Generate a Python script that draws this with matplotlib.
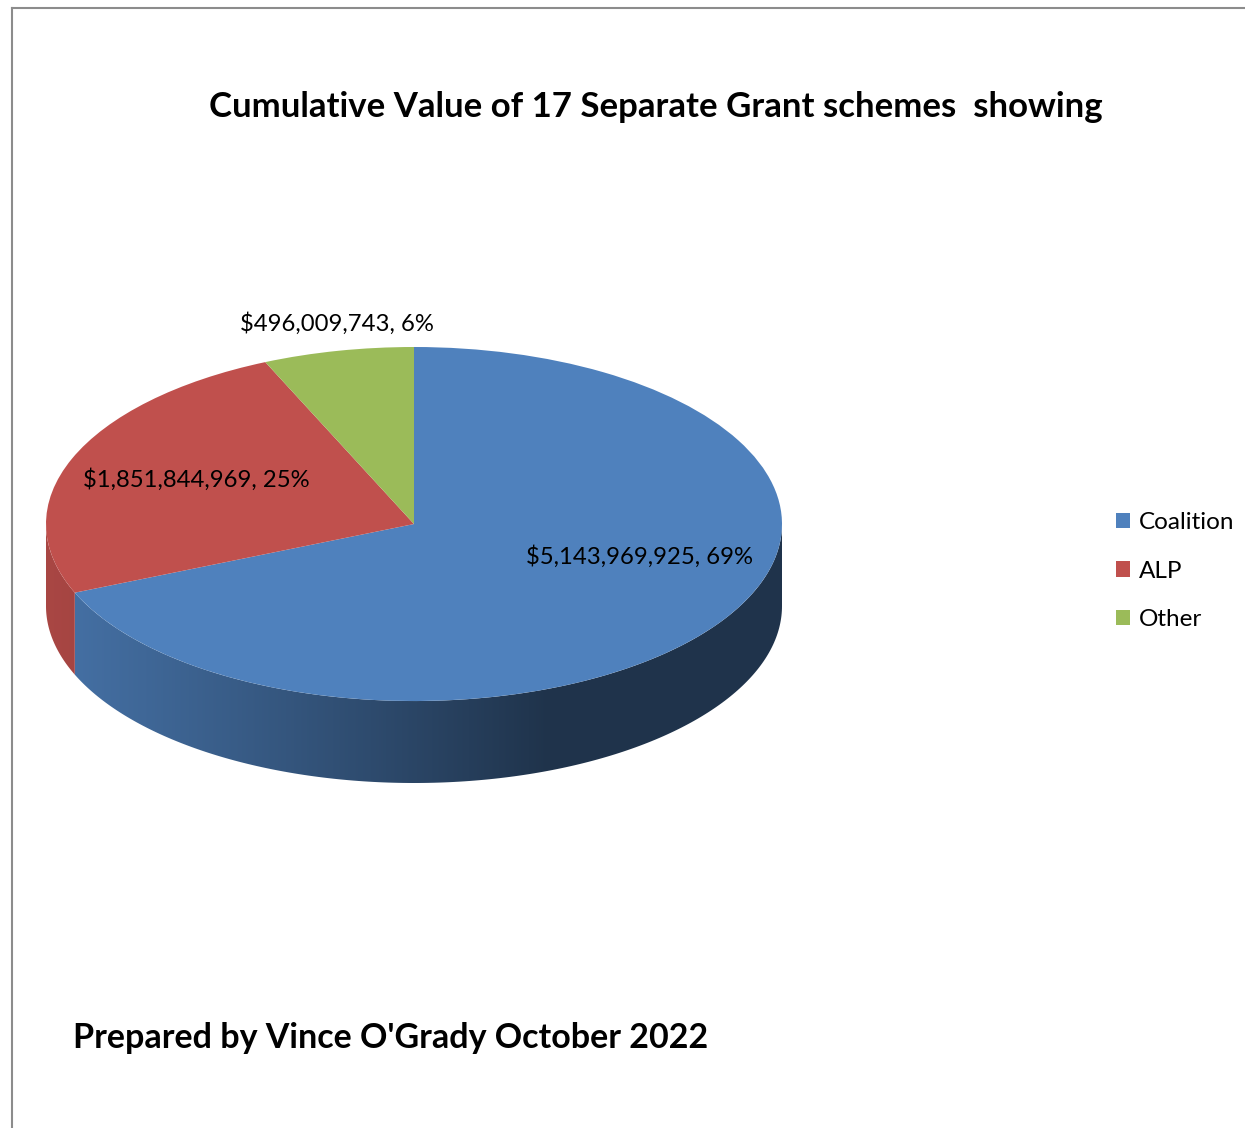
import numpy as np
import matplotlib
matplotlib.use("Agg")
import matplotlib.pyplot as plt
from matplotlib.patches import Polygon
from matplotlib.colors import to_rgb

# data
parties = ["Coalition", "ALP", "Other"]
values = [5143969925, 1851844969, 496009743]
percents = [69, 25, 6]
colors = ["#4f81bd", "#c0504d", "#9bbb59"]

plt.rcParams['font.family'] = ['Lato', 'DejaVu Sans']

fig = plt.figure(figsize=(12.45, 11.28), dpi=100)

# thin grey frame (only top and left edges visible in the crop)
fig.add_artist(plt.Line2D([12/1245, 12/1245], [0, 1 - 8/1128], color="#8c8c8c", lw=1.5))
fig.add_artist(plt.Line2D([12/1245, 1], [1 - 8/1128, 1 - 8/1128], color="#8c8c8c", lw=1.5))

# pie axes: radius 1 ellipse, flattened by the axes aspect
depth = 0.463
ax = fig.add_axes([46/1245, (1128-783)/1128, 736/1245, 436/1128])
wedges, _ = ax.pie(values, colors=colors, startangle=90, counterclock=False,
                   wedgeprops=dict(linewidth=0, zorder=3))
ax.set_aspect('auto')
ax.axis('off')

# side wall of the 3d pie, shaded left -> right with a clipped gradient image
fracs = np.array(values) / sum(values)
cum = np.concatenate([[0], np.cumsum(fracs)])
xs = np.linspace(-1, 1, 600)
t = np.clip((xs + 1) / 2 / 0.68, 0, 1)
shade = 0.88 - 0.48 * t ** 1.1
for i, c in enumerate(colors):
    a_end = 90 - 360 * cum[i]
    a_start = 90 - 360 * cum[i + 1]
    lo, hi = max(a_start, -180), min(a_end, 0)
    if hi <= lo:
        continue
    angs = np.radians(np.linspace(lo, hi, 200))
    top = np.column_stack([np.cos(angs), np.sin(angs)])
    bot = np.column_stack([np.cos(angs[::-1]), np.sin(angs[::-1]) - depth])
    wall = Polygon(np.vstack([top, bot]), closed=True, facecolor="none",
                   edgecolor="none", transform=ax.transData)
    ax.add_patch(wall)
    grad = np.clip(np.array(to_rgb(c))[None, None, :] * shade[None, :, None], 0, 1)
    im = ax.imshow(grad, extent=(-1, 1, -1 - depth, 1), aspect="auto",
                   interpolation="bilinear", zorder=1)
    im.set_clip_path(wall)
ax.set_xlim(-1, 1)
ax.set_ylim(-1 - depth, 1)

# data labels
label_pos = [(0.614, -0.186), (-0.592, 0.254), (-0.209, 1.13)]
for v, p, (lx, ly) in zip(values, percents, label_pos):
    ax.text(lx, ly, f"${v:,}, {p}%", ha="center", va="center", fontsize=17.2,
            color="black", zorder=5, clip_on=False)

fig.text(656/1245, 1 - 107/1128, "Cumulative Value of 17 Separate Grant schemes  showing",
         ha="center", va="center", fontsize=25, fontweight="bold")
fig.text(73/1245, 1 - 1038/1128, "Prepared by Vince O'Grady October 2022",
         ha="left", va="center", fontsize=24.5, fontweight="bold")

fig.legend(wedges, parties, loc="center left", bbox_to_anchor=(1094/1245, 1 - 571/1128),
           frameon=False, fontsize=17.5, handlelength=0.6, handleheight=0.6,
           handletextpad=0.35, labelspacing=1.13)

fig.savefig("out.png", dpi=100, facecolor="white")
